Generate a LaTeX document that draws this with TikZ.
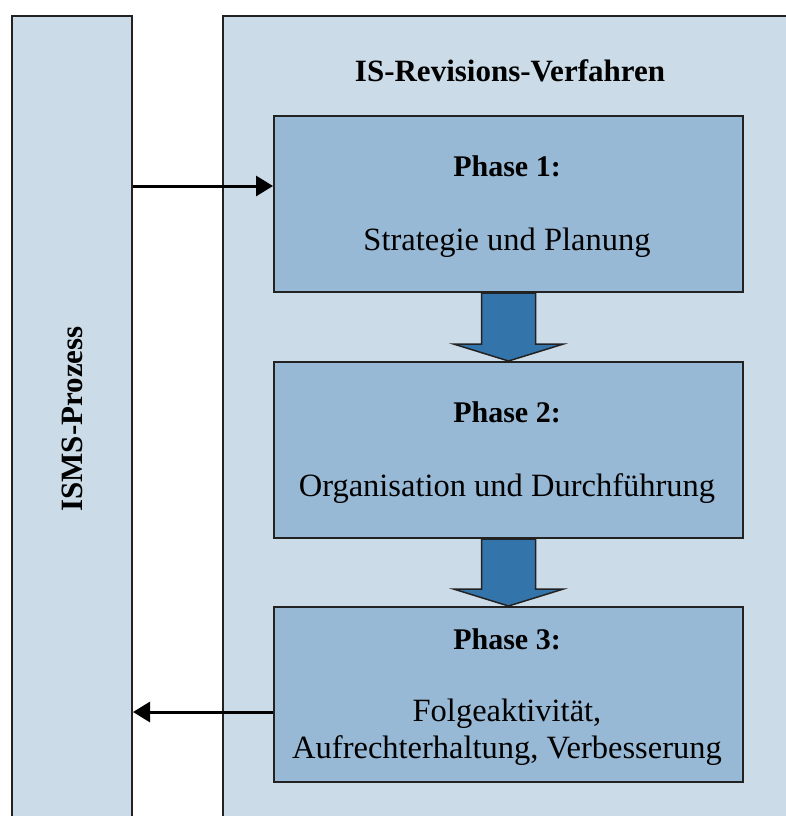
\documentclass[tikz,border=0pt]{standalone}
\usepackage{fontspec}
\setmainfont{Liberation Serif}
\usetikzlibrary{calc,arrows.meta}
\definecolor{outerfill}{HTML}{CBDCE8}
\definecolor{phasefill}{HTML}{98B9D5}
\definecolor{arrowfill}{HTML}{3375AB}
\definecolor{edgecol}{HTML}{222222}
\begin{document}
\begin{tikzpicture}[x=1pt,y=-1pt,
  outerbox/.style={draw=edgecol,line width=2pt,fill=outerfill,inner sep=0pt,anchor=north west},
  phasebox/.style={draw=edgecol,line width=2pt,fill=phasefill,minimum width=469pt,inner sep=0pt,anchor=north west},
  headtext/.style={font=\fontsize{31}{36}\selectfont\bfseries,anchor=base},
  phasetext/.style={font=\fontsize{30}{36}\selectfont\bfseries,anchor=base},
  bodytext/.style={font=\fontsize{32.5}{38}\selectfont,anchor=base},
  flow/.style={line width=3pt,-{Triangle[length=17pt,width=20pt]}},
  blockarrow/.style={draw=edgecol,line width=1.5pt,fill=arrowfill,line join=miter}]
\useasboundingbox (0,0) rectangle (786,816);
\clip (0,0) rectangle (786,816);
\fill[white] (0,0) rectangle (786,816);
% containers
\node[outerbox,minimum width=120pt,minimum height=840pt] (isms) at (11,15) {};
\node[outerbox,minimum width=620pt,minimum height=840pt] (rev) at (222,15) {};
% phase boxes
\node[phasebox,minimum height=176pt] (p1) at (273,115) {};
\node[phasebox,minimum height=176pt] (p2) at (273,361) {};
\node[phasebox,minimum height=175pt] (p3) at (273,606) {};
% texts
\node[headtext,rotate=90,anchor=center] (ismslabel) at (72.5,419) {ISMS-Prozess};
\node[headtext] (revlabel) at (510,81.7) {IS-Revisions-Verfahren};
\node[phasetext] (p1a) at (507,176.7) {Phase 1:};
\node[bodytext] (p1b) at (507,250) {Strategie und Planung};
\node[phasetext] (p2a) at (507,422.7) {Phase 2:};
\node[bodytext] (p2b) at (507,496) {Organisation und Durchführung};
\node[phasetext] (p3a) at (507,649.3) {Phase 3:};
\node[bodytext] (p3b) at (507,721) {Folgeaktivität,};
\node[bodytext] (p3c) at (507,758.3) {Aufrechterhaltung, Verbesserung};
% block arrows
\draw[blockarrow] ($(p1.south)+(-27,0)$) -- ($(p2.north)+(-27,-17)$) -- ($(p2.north)+(-55,-17)$) -- (p2.north) -- ($(p2.north)+(55,-17)$) -- ($(p2.north)+(27,-17)$) -- ($(p1.south)+(27,0)$) -- cycle;
\draw[blockarrow] ($(p2.south)+(-27,0)$) -- ($(p3.north)+(-27,-17)$) -- ($(p3.north)+(-55,-17)$) -- (p3.north) -- ($(p3.north)+(55,-17)$) -- ($(p3.north)+(27,-17)$) -- ($(p2.south)+(27,0)$) -- cycle;
% flow arrows
\coordinate (a1) at ($(p1.west)+(0,-18)$);
\coordinate (a3) at ($(p3.west)+(0,17.5)$);
\draw[flow] (isms.east |- a1) -- (a1);
\draw[flow] (a3) -- (isms.east |- a3);
\end{tikzpicture}
\end{document}
